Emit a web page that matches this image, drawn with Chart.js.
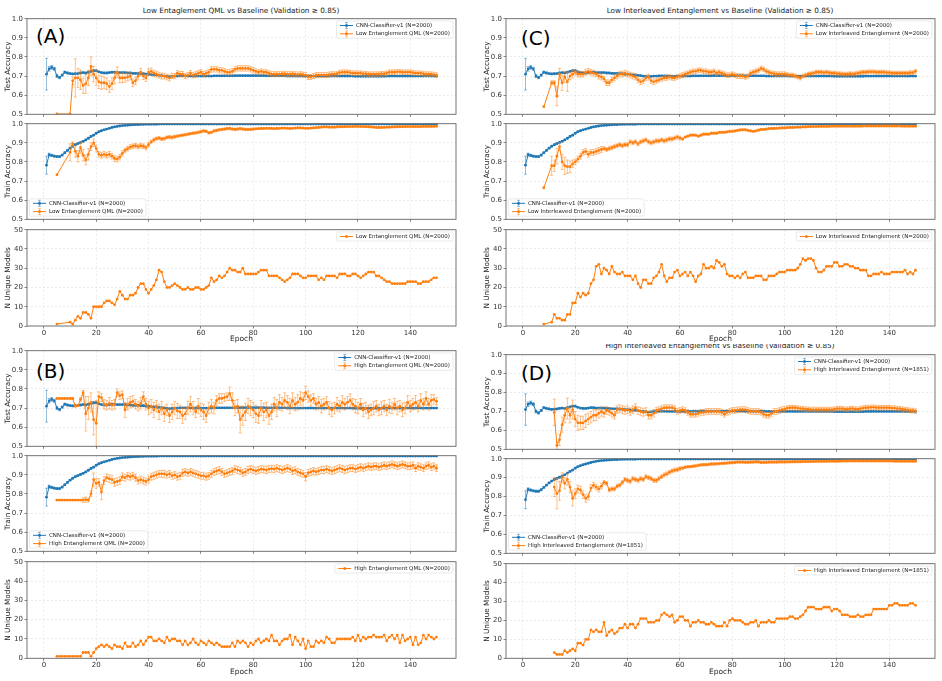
<!DOCTYPE html>
<html>
<head>
<meta charset="utf-8">
<script src="https://cdn.jsdelivr.net/npm/chart.js@4.4.0/dist/chart.umd.min.js"></script>
<style>
body { margin: 0; background: #fff; width: 942px; height: 681px; overflow: hidden; position: relative; font-family: 'DejaVu Sans', sans-serif; }
canvas { position: absolute; }
.ttl { position: absolute; font-size: 7.3px; line-height: 9px; color: #222; white-space: nowrap; transform: translateX(-50%); }
.lbl { position: absolute; font-size: 20px; line-height: 20px; color: #000; }
.clip { position: absolute; overflow: hidden; }
</style>
</head>
<body>
<div class="ttl" style="left:241px;top:5.5px">Low Entaglement QML vs Baseline (Validation ≥ 0.85)</div>
<div class="ttl" style="left:720px;top:5.5px">Low Interleaved Entanglement vs Baseline (Validation ≥ 0.85)</div>
<div class="clip" style="left:570px;top:344px;width:300px;height:7px"><div class="ttl" style="left:150px;top:-3.5px">High Interleaved Entanglement vs Baseline (Validation ≥ 0.85)</div></div>
<div class="lbl" style="left:36px;top:26px">(A)</div>
<div class="lbl" style="left:36px;top:361px">(B)</div>
<div class="lbl" style="left:521px;top:28px">(C)</div>
<div class="lbl" style="left:521px;top:363px">(D)</div>
<script>
// values in thousandths (accuracy) or counts, index = epoch - 1
const cnnTest = [
 710,738,745,738,700,692,705,720,716,713,
 711,712,713,716,718,716,720,724,728,728,
 722,718,716,716,718,720,720,718,718,718,
 718,716,716,714,714,714,712,712,710,710,
 708,706,706,704,702,700,698,697,698,700,
 700,701,701,701,701,700,700,700,700,700,
 700,700,700,700,701,701,701,701,701,701,
 701,701,702,702,702,702,702,702,702,702,
 702,702,702,702,701,701,701,701,701,701,
 701,701,700,700,700,700,700,700,700,700,
 700,700,700,700,700,700,700,700,700,700,
 700,700,700,700,700,700,700,700,699,699,
 699,699,699,699,699,699,699,699,699,699,
 700,700,700,700,700,700,700,700,700,700,
 700,700,700,700,700,700,700,700,700,700];
const cnnTestErr = [
 83,12,10,8,8,6,5,5,5,4,
 4,4,4,4,4,4,4,4,4,4,
 4,4,4,4,4,4,4,4,4,4,
 4,4,4,4,4,4,4,4,4,4,
 3,3,3,3,3,3,3,3,3,3,
 3,3,3,3,3,3,3,3,3,3,
 3,3,3,3,3,3,3,3,3,3,
 3,3,3,3,3,3,3,3,3,3,
 3,3,3,3,3,3,3,3,3,3,
 3,3,3,3,3,3,3,3,3,3,
 3,3,3,3,3,3,3,3,3,3,
 3,3,3,3,3,3,3,3,3,3,
 3,3,3,3,3,3,3,3,3,3,
 3,3,3,3,3,3,3,3,3,3,
 3,3,3,3,3,3,3,3,3,3];
const cnnTrain = [
 783,838,834,830,828,828,836,848,860,872,
 882,890,896,902,908,915,924,933,940,950,
 958,963,968,972,976,980,983,986,988,990,
 991,992,993,994,995,995,996,996,997,997,
 997,997,997,998,998,998,998,998,998,998,
 998,998,998,998,998,998,998,998,998,998,
 998,998,998,998,998,998,998,998,998,998,
 998,998,998,998,998,998,998,998,998,998,
 998,998,998,998,998,998,998,998,998,998,
 998,998,998,998,998,998,998,998,998,998,
 998,998,998,998,998,998,998,998,998,998,
 998,998,998,998,998,998,998,998,998,998,
 998,998,998,998,998,998,998,998,998,998,
 998,998,998,998,998,998,998,998,998,998,
 998,998,998,998,998,998,998,998,998,998];
const cnnTrainErr = [
 47,8,6,5,5,5,5,4,4,4,
 4,4,4,4,4,4,4,4,4,4,
 3,3,3,3,3,3,3,3,3,3,
 2,2,2,2,2,2,2,2,2,2,
 2,2,2,2,2,2,2,2,2,2,
 2,2,2,2,2,2,2,2,2,2,
 2,2,2,2,2,2,2,2,2,2,
 2,2,2,2,2,2,2,2,2,2,
 2,2,2,2,2,2,2,2,2,2,
 2,2,2,2,2,2,2,2,2,2,
 2,2,2,2,2,2,2,2,2,2,
 2,2,2,2,2,2,2,2,2,2,
 2,2,2,2,2,2,2,2,2,2,
 2,2,2,2,2,2,2,2,2,2,
 2,2,2,2,2,2,2,2,2,2];

// (A) Low Entanglement QML
const aTest = [
 null,null,null,null,502,null,null,null,null,502,
 675,690,690,680,650,660,690,750,710,690,
 670,665,665,660,645,660,690,720,690,690,
 690,695,700,665,675,700,720,700,690,720,
 725,715,710,705,700,700,695,690,700,700,
 715,710,710,700,705,715,705,710,715,720,
 710,715,720,735,735,735,730,730,725,720,
 720,725,735,740,740,740,740,740,735,730,
 725,720,725,720,720,715,710,710,710,710,
 712,712,710,710,712,710,708,710,708,705,
 695,695,700,705,705,705,705,705,708,710,
 710,712,718,720,720,720,718,715,715,715,
 715,712,712,710,710,710,710,710,712,712,
 715,720,720,720,722,722,720,720,720,720,
 718,715,715,715,712,710,710,710,708,705];
const aTestErr = [
 0,0,0,0,0,0,0,0,0,0,
 20,100,50,50,40,50,40,50,40,40,
 35,35,30,30,30,30,30,28,25,25,
 22,20,20,20,20,20,20,18,18,18,
 16,16,15,15,15,15,15,15,14,14,
 14,14,14,14,14,14,14,14,14,14,
 14,14,14,14,14,14,14,14,14,14,
 14,14,14,14,14,14,14,14,14,14,
 13,13,13,13,13,13,13,13,13,13,
 13,13,13,13,13,13,13,13,13,13,
 13,13,13,13,13,13,13,13,13,13,
 12,12,12,12,12,12,12,12,12,12,
 12,12,12,12,12,12,12,12,12,12,
 12,12,12,12,12,12,12,12,12,12,
 12,12,12,12,12,12,12,12,12,12];
const aTrain = [
 null,null,null,null,733,null,null,null,null,850,
 895,855,830,875,835,810,840,880,900,870,
 840,835,840,835,840,830,818,815,825,845,
 860,870,878,882,885,880,885,882,875,890,
 905,915,922,925,920,922,928,930,928,932,
 935,938,940,942,945,948,950,952,955,958,
 962,960,952,955,962,965,968,970,972,974,
 975,972,970,972,974,972,970,970,970,972,
 973,974,975,975,976,976,975,974,975,976,
 977,977,976,975,976,977,978,978,977,976,
 976,977,978,979,980,982,983,983,982,982,
 982,983,984,984,984,985,985,985,986,986,
 985,985,984,984,983,982,980,980,980,981,
 982,982,983,983,984,984,984,985,985,985,
 985,985,985,985,986,986,986,986,986,987];
const aTrainErr = [
 0,0,0,0,0,0,0,0,0,45,
 10,30,30,30,30,25,30,20,20,18,
 15,15,15,15,15,15,15,15,15,14,
 12,12,12,12,12,12,12,12,12,12,
 10,10,8,8,8,8,8,8,8,8,
 6,6,6,6,6,6,6,6,6,6,
 6,6,6,6,6,6,6,6,6,6,
 6,6,6,6,6,6,6,6,6,6,
 4,4,4,4,4,4,4,4,4,4,
 4,4,4,4,4,4,4,4,4,4,
 4,4,4,4,4,4,4,4,4,4,
 4,4,4,4,4,4,4,4,4,4,
 4,4,4,4,4,4,4,4,4,4,
 4,4,4,4,4,4,4,4,4,4,
 4,4,4,4,4,4,4,4,4,4];
const aUnique = [
 null,null,null,null,1,null,null,null,null,2,
 1,3,5,4,7,7,6,4,10,10,
 10,10,12,13,13,12,11,14,18,16,
 14,14,16,16,17,20,22,22,19,17,
 19,21,24,29,28,23,20,20,21,22,
 21,20,19,19,20,19,19,20,20,19,
 19,20,21,25,23,24,26,25,26,28,
 30,29,29,28,28,30,27,27,27,27,
 27,28,29,29,29,26,26,26,26,25,
 24,23,24,25,27,27,27,26,25,25,
 26,26,26,26,24,25,24,26,26,26,
 26,25,27,27,27,26,26,27,27,26,
 25,26,27,28,28,28,26,26,25,24,
 23,23,22,22,22,22,22,22,23,23,
 23,23,22,22,23,23,23,24,25,25];

// (B) High Entanglement QML
const bTest = [
 null,null,null,null,750,750,750,750,750,750,
 750,710,712,745,780,670,700,730,640,620,
 760,755,720,715,725,715,720,780,765,770,
 690,720,730,735,720,710,725,760,720,700,
 710,690,710,680,700,670,690,660,680,700,
 685,680,660,670,700,720,700,680,710,690,
 680,660,700,710,700,740,750,750,755,760,
 775,740,700,710,640,660,680,710,700,690,
 670,660,700,680,690,660,680,720,700,730,
 720,740,730,710,740,720,730,750,740,780,
 760,740,750,720,730,710,720,730,700,690,
 700,720,710,730,720,730,740,720,710,700,
 720,690,700,680,690,700,710,690,700,710,
 690,710,700,720,700,710,690,700,730,710,
 720,730,710,740,720,750,720,740,745,735];
const bTestErr = [
 0,0,0,0,3,3,3,3,3,3,
 3,3,3,10,12,90,60,50,80,120,
 25,20,25,25,30,25,25,20,20,20,
 40,30,30,30,25,25,30,25,30,35,
 35,40,30,40,35,40,30,35,40,35,
 40,35,40,30,35,40,35,30,40,35,
 40,35,30,35,30,25,25,25,20,20,
 35,40,40,35,70,50,45,40,40,40,
 45,40,40,45,40,45,40,35,45,40,
 35,40,35,40,40,35,40,35,40,35,
 30,30,25,30,30,35,30,30,35,35,
 30,35,30,35,30,30,35,30,35,30,
 30,35,30,35,30,35,30,30,35,30,
 30,35,30,30,35,30,35,30,35,30,
 30,35,30,35,30,35,30,30,25,20];
const bTrain = [
 null,null,null,null,768,768,768,768,768,768,
 768,768,768,768,768,770,768,800,875,855,
 860,810,870,885,880,875,860,865,870,890,
 885,895,890,895,885,870,875,870,865,875,
 890,895,900,905,905,905,900,905,895,900,
 890,895,910,915,910,915,910,905,900,895,
 895,890,895,905,915,920,925,915,905,910,
 915,920,930,925,920,910,915,925,930,925,
 920,925,930,928,925,930,932,930,935,930,
 925,930,935,930,920,925,915,910,905,890,
 910,915,920,915,920,925,925,930,925,920,
 925,930,935,930,925,930,935,935,930,935,
 940,935,940,945,940,945,945,940,945,950,
 945,950,955,950,945,950,955,950,945,945,
 950,935,945,940,935,945,950,940,945,935];
const bTrainErr = [
 0,0,0,0,3,3,3,3,3,3,
 3,3,3,3,12,14,10,15,35,25,
 20,40,20,20,20,20,20,20,20,20,
 18,18,18,18,18,18,18,18,18,18,
 18,18,18,18,18,18,18,18,18,18,
 18,18,18,18,18,18,18,18,18,18,
 18,18,18,18,18,18,18,18,18,18,
 18,18,18,18,18,18,18,18,18,18,
 18,18,18,18,18,18,18,18,18,18,
 18,18,18,18,18,18,18,18,18,22,
 18,18,18,18,18,18,18,18,18,18,
 18,18,18,18,18,18,18,18,18,18,
 18,18,18,18,18,18,18,18,18,18,
 18,18,18,18,18,18,18,18,18,18,
 18,18,18,18,18,18,18,18,18,18];
const bUnique = [
 null,null,null,null,1,1,1,1,1,1,
 1,1,1,1,3,3,3,1,3,5,
 6,7,6,7,6,5,7,6,6,5,
 8,6,6,8,6,7,9,7,9,11,
 11,9,9,10,9,8,11,9,10,10,
 9,9,7,9,7,8,10,8,7,9,
 8,7,9,8,7,8,7,6,6,6,
 6,8,6,9,8,9,8,6,8,7,
 9,10,8,9,10,9,12,9,9,7,
 9,10,10,12,7,11,9,7,10,5,
 9,6,6,9,8,9,8,11,10,8,
 8,10,10,10,10,10,10,11,9,12,
 9,11,10,11,11,12,11,11,11,12,
 9,11,12,10,12,8,12,9,10,11,
 7,11,7,8,12,10,12,11,10,11];

// (C) Low Interleaved Entanglement
const cTest = [
 null,null,null,null,null,null,null,540,null,null,
 665,665,595,710,665,695,670,700,710,720,
 710,710,710,720,725,720,715,710,700,695,
 685,665,665,680,690,700,710,710,715,710,
 705,700,695,680,670,675,690,695,675,670,
 675,680,685,690,690,695,690,690,695,700,
 705,710,715,720,725,725,730,730,725,725,
 720,720,725,715,720,715,710,705,705,710,
 705,700,700,700,695,700,715,720,725,730,
 740,735,725,720,715,712,710,710,710,710,
 708,705,705,700,695,690,700,705,710,712,
 715,720,720,720,718,720,718,715,715,712,
 712,710,710,710,712,710,712,715,718,720,
 720,722,722,722,720,720,720,720,718,718,
 715,715,715,715,715,715,715,718,718,725];
const cTestErr = [
 0,0,0,0,0,0,0,0,0,0,
 10,10,50,30,40,30,50,20,20,15,
 15,15,15,15,15,15,15,15,15,15,
 15,15,15,15,15,15,15,15,15,15,
 15,15,15,15,15,15,15,15,15,15,
 12,12,12,12,12,12,12,12,12,12,
 12,12,12,12,12,12,12,12,12,12,
 12,12,12,12,12,12,12,12,12,12,
 12,12,12,12,12,12,12,12,12,12,
 12,12,12,12,12,12,12,12,12,12,
 10,10,10,10,10,10,10,10,10,10,
 10,10,10,10,10,10,10,10,10,10,
 10,10,10,10,10,10,10,10,10,10,
 10,10,10,10,10,10,10,10,10,10,
 10,10,10,10,10,10,10,10,10,10];
const cTrain = [
 null,null,null,null,null,null,null,665,null,null,
 780,780,830,880,800,780,775,775,790,800,
 815,830,850,855,840,850,850,855,860,865,
 870,865,870,875,880,885,890,885,890,890,
 905,900,905,895,905,910,915,905,900,905,
 910,910,915,910,915,920,920,925,930,925,
 920,930,935,940,940,940,935,940,945,945,
 945,950,950,950,955,955,955,957,960,960,
 962,965,967,968,968,965,962,960,962,966,
 970,970,972,974,975,975,976,977,978,978,
 979,980,980,981,982,982,983,983,984,985,
 985,985,986,986,986,986,986,987,987,987,
 987,987,987,987,987,987,987,987,987,988,
 988,988,988,988,988,988,988,988,988,988,
 988,988,988,988,987,987,987,987,987,987];
const cTrainErr = [
 0,0,0,0,0,0,0,0,0,0,
 50,30,40,20,40,45,35,30,20,15,
 15,15,15,15,15,15,15,15,15,15,
 10,10,10,10,10,10,10,10,10,10,
 10,10,10,10,10,10,10,10,10,10,
 10,10,10,10,10,10,10,10,10,10,
 5,5,5,5,5,5,5,5,5,5,
 5,5,5,5,5,5,5,5,5,5,
 5,5,5,5,5,5,5,5,5,5,
 5,5,5,5,5,5,5,5,5,5,
 4,4,4,4,4,4,4,4,4,4,
 4,4,4,4,4,4,4,4,4,4,
 4,4,4,4,4,4,4,4,4,4,
 4,4,4,4,4,4,4,4,4,4,
 4,4,4,4,4,4,4,4,4,4];
const cUnique = [
 null,null,null,null,null,null,null,1,null,null,
 2,6,4,4,3,3,6,6,12,12,
 17,15,17,16,17,22,24,31,32,27,
 30,29,27,31,28,27,27,28,26,26,
 26,24,26,22,20,24,24,22,22,25,
 26,28,32,26,23,25,25,28,29,26,
 27,28,26,28,26,23,26,27,32,30,
 30,31,30,34,33,31,32,27,26,26,
 25,26,25,27,28,25,25,25,26,26,
 26,24,24,26,26,26,27,28,28,28,
 29,29,29,29,30,32,35,34,35,35,
 34,30,28,28,29,31,31,31,33,33,
 31,31,32,32,31,31,30,30,29,29,
 29,26,26,27,27,27,28,27,27,27,
 28,28,28,28,28,29,27,28,27,29];

// (D) High Interleaved Entanglement
const dTest = [
 null,null,null,null,null,null,null,null,null,null,
 null,695,520,550,630,680,715,680,710,660,
 640,640,640,650,660,670,680,680,690,700,
 690,705,700,690,680,710,715,710,705,710,
 700,710,720,705,700,695,700,680,680,690,
 705,710,715,720,720,720,720,715,700,705,
 710,705,695,685,685,685,690,695,695,700,
 700,700,700,700,700,695,685,695,700,705,
 705,708,710,710,710,705,700,700,700,700,
 695,685,680,680,690,700,700,705,710,712,
 718,720,720,720,718,715,715,712,712,710,
 710,710,710,710,710,710,710,710,712,715,
 715,715,712,712,715,715,712,712,715,718,
 720,720,722,722,720,720,720,720,720,720,
 718,718,715,715,712,710,708,705,705,702];
const dTestErr = [
 0,0,0,0,0,0,0,0,0,0,
 0,70,20,30,40,40,55,40,50,40,
 40,35,35,35,30,30,30,28,25,25,
 20,20,20,20,20,20,20,20,20,20,
 20,20,20,20,20,20,20,20,20,20,
 15,15,15,15,15,15,15,15,15,15,
 15,15,15,15,15,15,15,15,15,15,
 15,15,15,15,15,15,15,15,15,15,
 15,15,15,15,15,15,15,15,15,15,
 15,15,15,15,15,15,15,15,15,15,
 12,12,12,12,12,12,12,12,12,12,
 12,12,12,12,12,12,12,12,12,12,
 12,12,12,12,12,12,12,12,12,12,
 12,12,12,12,12,12,12,12,12,12,
 12,12,12,12,12,12,12,12,12,12];
const dTrain = [
 null,null,null,null,null,null,null,null,null,null,
 null,850,815,830,900,870,890,850,790,815,
 840,835,810,790,800,845,860,850,840,855,
 875,870,835,840,840,855,860,875,890,885,
 880,895,890,885,895,890,905,900,895,885,
 885,895,905,915,920,928,935,940,942,948,
 950,955,957,958,960,962,965,967,968,968,
 970,972,972,973,974,975,976,977,978,979,
 980,982,982,982,981,981,982,982,983,983,
 980,981,981,982,982,982,982,983,983,983,
 983,983,984,984,984,984,985,985,985,985,
 985,986,986,986,986,986,987,987,987,987,
 987,988,988,988,988,988,988,988,988,988,
 988,988,988,988,988,988,988,988,988,988,
 988,987,987,987,987,987,987,987,987,987];
const dTrainErr = [
 0,0,0,0,0,0,0,0,0,0,
 0,50,80,50,25,30,30,30,40,25,
 20,20,20,20,18,18,15,15,15,15,
 10,10,10,10,10,10,10,10,10,10,
 10,10,10,10,10,10,10,10,10,10,
 10,10,10,10,10,10,10,10,10,10,
 6,6,6,6,6,6,6,6,6,6,
 6,6,6,6,6,6,6,6,6,6,
 6,6,6,6,6,6,6,6,6,6,
 6,6,6,6,6,6,6,6,6,6,
 5,5,5,5,5,5,5,5,5,5,
 5,5,5,5,5,5,5,5,5,5,
 5,5,5,5,5,5,5,5,5,5,
 5,5,5,5,5,5,5,5,5,5,
 5,5,5,5,5,5,5,5,5,5];
const dUnique = [
 null,null,null,null,null,null,null,null,null,null,
 null,3,2,2,2,4,3,4,5,4,
 8,8,7,10,10,15,14,15,14,14,
 19,12,14,15,13,14,16,16,18,16,
 18,18,16,18,21,21,21,19,19,19,
 20,20,23,24,23,22,23,19,20,22,
 22,20,20,17,19,19,20,19,19,18,
 18,19,18,17,17,17,19,17,20,21,
 20,20,20,19,18,18,19,19,20,17,
 19,19,19,20,19,19,21,21,21,21,
 21,22,22,21,21,22,23,25,27,27,
 27,26,26,26,27,27,27,25,26,26,
 25,23,23,23,22,22,22,23,22,22,
 23,23,23,26,26,26,26,26,26,28,
 28,29,29,28,28,28,28,29,29,28];

const epochs = cnnTest.map((_, i) => i + 1);
const xTicks = [0, 20, 40, 60, 80, 100, 120, 140];
const accTicks = [0.5, 0.6, 0.7, 0.8, 0.9, 1.0];
const uniqTicks = [0, 10, 20, 30, 40, 50];
const cnnName = 'CNN-Classifier-v1 (N=2000)';

const BLUE = '#1f77b4', ORANGE = '#ff7f0e';
const BLUE_ERR = 'rgba(31,119,180,0.6)', ORANGE_ERR = 'rgba(255,127,14,0.6)';
const FONT = "'DejaVu Sans', sans-serif";

function pts(vals, errs, div) {
  const out = [];
  vals.forEach((v, i) => {
    if (v !== null) out.push({ x: epochs[i], y: v / div, e: errs ? errs[i] / div : 0 });
  });
  return out;
}

const errorBars = {
  id: 'errorBars',
  beforeDatasetDraw(chart, args) {
    const ds = chart.data.datasets[args.index];
    if (!ds.errColor) return;
    const xs = chart.scales.x, ys = chart.scales.y, a = chart.chartArea, ctx = chart.ctx;
    ctx.save();
    ctx.beginPath();
    ctx.rect(a.left, a.top, a.right - a.left, a.bottom - a.top);
    ctx.clip();
    ctx.strokeStyle = ds.errColor;
    ctx.lineWidth = 0.8;
    ctx.beginPath();
    ds.data.forEach(p => {
      if (!p.e) return;
      const x = xs.getPixelForValue(p.x);
      const y1 = ys.getPixelForValue(p.y - p.e), y2 = ys.getPixelForValue(p.y + p.e);
      ctx.moveTo(x, y1); ctx.lineTo(x, y2);
      ctx.moveTo(x - 1.5, y1); ctx.lineTo(x + 1.5, y1);
      ctx.moveTo(x - 1.5, y2); ctx.lineTo(x + 1.5, y2);
    });
    ctx.stroke();
    ctx.restore();
  }
};

const deco = {
  id: 'deco',
  afterDraw(chart, args, opt) {
    const ctx = chart.ctx, a = chart.chartArea;
    ctx.save();
    ctx.strokeStyle = '#666';
    ctx.lineWidth = 0.9;
    ctx.strokeRect(a.left, a.top, a.right - a.left, a.bottom - a.top);

    const items = opt.items;
    ctx.font = '5.5px ' + FONT;
    const tw = Math.max(...items.map(it => ctx.measureText(it.label).width));
    const rowH = 8.3;
    let x0, y0;
    if (opt.pos === 'tr') { x0 = a.right - 6 - tw - 17; y0 = a.top + 6.8; }
    else { x0 = a.left + 5; y0 = a.bottom - 7.7 - rowH * (items.length - 1); }
    const bx = x0 - 2.5, by = y0 - 4.5, bw = tw + 22.5, bh = rowH * (items.length - 1) + 9;
    ctx.fillStyle = 'rgba(255,255,255,0.8)';
    ctx.strokeStyle = '#dcdcdc';
    ctx.lineWidth = 0.6;
    ctx.beginPath();
    ctx.roundRect(bx, by, bw, bh, 1.5);
    ctx.fill();
    ctx.stroke();
    items.forEach((it, i) => {
      const y = y0 + i * rowH;
      const mx = x0 + 7.5;
      if (it.err) {
        ctx.strokeStyle = it.err;
        ctx.lineWidth = 0.8;
        ctx.beginPath();
        ctx.moveTo(mx, y - 3); ctx.lineTo(mx, y + 3);
        ctx.moveTo(mx - 1.5, y - 3); ctx.lineTo(mx + 1.5, y - 3);
        ctx.moveTo(mx - 1.5, y + 3); ctx.lineTo(mx + 1.5, y + 3);
        ctx.stroke();
      }
      ctx.strokeStyle = it.color;
      ctx.lineWidth = 1;
      ctx.beginPath();
      ctx.moveTo(x0 + 1, y); ctx.lineTo(x0 + 14, y);
      ctx.stroke();
      ctx.fillStyle = it.color;
      ctx.beginPath();
      ctx.arc(mx, y, 1.5, 0, Math.PI * 2);
      ctx.fill();
      ctx.fillStyle = '#222';
      ctx.textBaseline = 'middle';
      ctx.fillText(it.label, x0 + 17, y);
    });
    ctx.restore();
  }
};

const panels = [
  { plotLeft: 27, rows: [[18.3, 116], [123.3, 221], [229, 326]], name: 'Low Entanglement QML (N=2000)',
    test: aTest, testErr: aTestErr, train: aTrain, trainErr: aTrainErr, uniq: aUnique },
  { plotLeft: 27, rows: [[350, 447.3], [455, 552.5], [561, 658.3]], name: 'High Entanglement QML (N=2000)',
    test: bTest, testErr: bTestErr, train: bTrain, trainErr: bTrainErr, uniq: bUnique },
  { plotLeft: 506, rows: [[18.3, 116], [123.3, 221], [229, 326]], name: 'Low Interleaved Entanglement (N=2000)',
    test: cTest, testErr: cTestErr, train: cTrain, trainErr: cTrainErr, uniq: cUnique },
  { plotLeft: 506, rows: [[354, 451], [458, 554.3], [563, 658.3]], name: 'High Interleaved Entanglement (N=1851)',
    test: dTest, testErr: dTestErr, train: dTrain, trainErr: dTrainErr, uniq: dUnique }
];

function lineDs(data, color, errColor, order) {
  return {
    data, borderColor: color, backgroundColor: color, errColor,
    borderWidth: 1, pointRadius: 1.4, pointBorderWidth: 0, pointHoverRadius: 0,
    pointBackgroundColor: color, tension: 0, order
  };
}

function makeChart(p, r) {
  const [top, bottom] = p.rows[r];
  const isBottom = r === 2;
  const xh = isBottom ? 18 : 3;
  const yw = 27, plotW = 429;
  const ct = Math.floor(top) - 5;
  const h = Math.ceil(bottom - ct + xh) + 1;
  const c = document.createElement('canvas');
  const w = yw + plotW + 4;
  c.width = w; c.height = h;
  c.style.left = (p.plotLeft - yw) + 'px';
  c.style.top = ct + 'px';
  c.style.width = w + 'px';
  c.style.height = h + 'px';
  document.body.appendChild(c);

  let datasets, items, yTicks, yTitle, pos;
  if (r === 0) {
    datasets = [lineDs(pts(cnnTest, cnnTestErr, 1000), BLUE, BLUE_ERR, 1),
                lineDs(pts(p.test, p.testErr, 1000), ORANGE, ORANGE_ERR, 0)];
    items = [{ label: cnnName, color: BLUE, err: BLUE_ERR }, { label: p.name, color: ORANGE, err: ORANGE_ERR }];
    yTicks = accTicks; yTitle = 'Test Accuracy'; pos = 'tr';
  } else if (r === 1) {
    datasets = [lineDs(pts(cnnTrain, cnnTrainErr, 1000), BLUE, BLUE_ERR, 1),
                lineDs(pts(p.train, p.trainErr, 1000), ORANGE, ORANGE_ERR, 0)];
    items = [{ label: cnnName, color: BLUE, err: BLUE_ERR }, { label: p.name, color: ORANGE, err: ORANGE_ERR }];
    yTicks = accTicks; yTitle = 'Train Accuracy'; pos = 'bl';
  } else {
    datasets = [lineDs(pts(p.uniq, null, 1), ORANGE, null, 0)];
    items = [{ label: p.name, color: ORANGE }];
    yTicks = uniqTicks; yTitle = 'N Unique Models'; pos = 'tr';
  }
  const isAcc = r < 2;

  new Chart(c, {
    type: 'line',
    data: { datasets },
    plugins: [errorBars, deco],
    options: {
      responsive: false,
      animation: false,
      events: [],
      layout: { padding: { top: top - ct, right: 4, left: 0, bottom: h - xh - (bottom - ct) } },
      plugins: {
        legend: { display: false },
        tooltip: { enabled: false },
        deco: { items, pos }
      },
      scales: {
        x: {
          type: 'linear', min: -6.45, max: 157.45,
          afterBuildTicks: s => { s.ticks = xTicks.map(v => ({ value: v })); },
          afterFit: s => { s.height = xh; },
          grid: { color: 'rgba(0,0,0,0.11)', lineWidth: 0.7, drawTicks: true, tickLength: 2.5,
                  tickColor: '#666', tickWidth: 0.8, tickBorderDash: [] },
          border: { display: false, dash: [2, 2] },
          ticks: { display: isBottom, padding: 0.5, color: '#333', font: { family: FONT, size: 7 } },
          title: { display: isBottom, text: 'Epoch', color: '#222', padding: 0, font: { family: FONT, size: 7.5 } }
        },
        y: {
          min: yTicks[0], max: yTicks[yTicks.length - 1],
          afterBuildTicks: s => { s.ticks = yTicks.map(v => ({ value: v })); },
          afterFit: s => { s.width = yw; },
          grid: { color: 'rgba(0,0,0,0.11)', lineWidth: 0.7, drawTicks: true, tickLength: 2.5,
                  tickColor: '#666', tickWidth: 0.8, tickBorderDash: [] },
          border: { display: false, dash: [2, 2] },
          ticks: { padding: 1.5, color: '#333', font: { family: FONT, size: 7 },
                   callback: v => isAcc ? v.toFixed(1) : String(v) },
          title: { display: true, text: yTitle, color: '#222', padding: { top: 3.5, bottom: 0 },
                   font: { family: FONT, size: 7.3 } }
        }
      }
    }
  });
}

panels.forEach(p => { [0, 1, 2].forEach(r => makeChart(p, r)); });
</script>
</body>
</html>
